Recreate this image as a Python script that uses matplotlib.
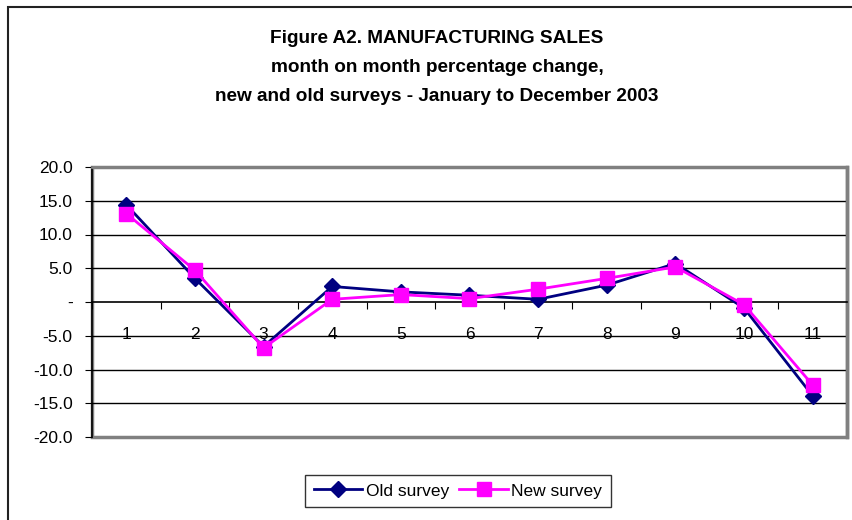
import matplotlib.pyplot as plt
from matplotlib.patches import Rectangle
from matplotlib.ticker import FixedLocator, NullFormatter

# Month-on-month percentage change, 2003
months = [1, 2, 3, 4, 5, 6, 7, 8, 9, 10, 11]
old_survey = [14.4, 3.5, -6.6, 2.3, 1.5, 1.0, 0.4, 2.5, 5.7, -0.9, -13.9]
new_survey = [13.1, 4.7, -6.8, 0.4, 1.1, 0.5, 1.9, 3.5, 5.2, -0.4, -12.3]
y_ticks = [-20, -15, -10, -5, 0, 5, 10, 15, 20]
y_labels = ['-20.0', '-15.0', '-10.0', '-5.0', '-', '5.0', '10.0', '15.0', '20.0']

plt.rcParams['font.family'] = ['Liberation Sans', 'DejaVu Sans']

fig = plt.figure(figsize=(8.53, 5.2), dpi=100)
ax = fig.add_axes([92 / 853, 1 - 437 / 520, 755 / 853, 270 / 520])

# chart frame around the whole figure
fig.patches.append(Rectangle((8 / 853, -0.1), 1.2, 1 - 7 / 520 + 0.1,
                             transform=fig.transFigure, fill=False,
                             edgecolor='#222222', linewidth=1.5))

title = ('Figure A2. MANUFACTURING SALES\n'
         'month on month percentage change,\n'
         'new and old surveys - January to December 2003')
fig.text(437 / 853, 1 - 67.5 / 520, title, ha='center', va='center',
         fontsize=13.7, fontweight='bold', linespacing=1.95)

ax.plot(months, old_survey, color='#000080', linewidth=2, marker='D',
        markersize=8, label='Old survey', zorder=3)
ax.plot(months, new_survey, color='#FF00FF', linewidth=2, marker='s',
        markersize=10, label='New survey', zorder=4)

ax.set_xlim(0.5, 11.5)
ax.set_ylim(-20, 20)
ax.set_yticks(y_ticks)
ax.set_yticklabels(y_labels)
for y in y_ticks[1:-1]:
    if y != 0:
        ax.axhline(y, color='black', linewidth=1, zorder=1)

# category axis through zero: boundary ticks plus centred labels
ax.spines['bottom'].set_position(('data', 0))
ax.spines['bottom'].set_color('black')
ax.spines['bottom'].set_linewidth(1.2)
ax.xaxis.set_major_locator(FixedLocator([m + 0.5 for m in months[:-1]] + [0.5]))
ax.xaxis.set_major_formatter(NullFormatter())
ax.xaxis.set_minor_locator(FixedLocator(months))
ax.set_xticklabels([str(m) for m in months], minor=True)
ax.tick_params(axis='x', which='major', direction='out', length=5, color='black')
ax.tick_params(axis='x', which='minor', length=0, pad=18, labelsize=12.5)
ax.tick_params(axis='y', direction='out', length=5, labelsize=12.5, pad=9)

# plot area border
ax.spines['left'].set_color('black')
ax.spines['left'].set_linewidth(1.2)
ax.spines['top'].set_color('#808080')
ax.spines['top'].set_linewidth(2)
ax.spines['right'].set_color('#808080')
ax.spines['right'].set_linewidth(2.5)
frame = Rectangle((0, 0), 1, 1, transform=ax.transAxes, fill=False,
                  edgecolor='#808080', linewidth=2.5, zorder=0, clip_on=False)
ax.add_patch(frame)

fig.legend(loc='center', bbox_to_anchor=(458 / 853, 1 - 491 / 520), ncol=2,
           frameon=True, fancybox=False, edgecolor='black', fontsize=12.5,
           handlelength=2.8, columnspacing=0.6, handletextpad=0.2,
           borderpad=0.5, borderaxespad=0)

fig.savefig('out.png', dpi=100)
